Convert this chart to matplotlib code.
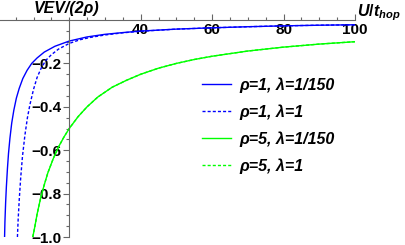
import matplotlib
matplotlib.use('Agg')
import matplotlib.pyplot as plt
from matplotlib.ticker import MultipleLocator, FixedLocator

plt.rcParams['font.family'] = ['Liberation Sans', 'DejaVu Sans']
plt.rcParams['mathtext.fontset'] = 'custom'
plt.rcParams['mathtext.it'] = 'Liberation Sans:italic:bold'
plt.rcParams['mathtext.rm'] = 'Liberation Sans:bold'

# values
x_b1 = [1.9, 2.0, 2.2, 2.4, 2.7, 3.0, 3.4, 3.9, 4.5, 5.2, 6.0, 7.0, 8.2, 9.5, 11, 13,
        16, 20, 25, 30, 35, 40, 50, 60, 70, 80, 90, 100]
y_b1 = [-1.0, -0.93, -0.84, -0.77, -0.685, -0.615, -0.545, -0.475, -0.415, -0.36, -0.315,
        -0.27, -0.232, -0.20, -0.175, -0.148, -0.121, -0.097, -0.078, -0.066, -0.058,
        -0.051, -0.042, -0.036, -0.031, -0.027, -0.024, -0.022]

x_b2 = [5.5, 5.7, 6.0, 6.4, 6.9, 7.6, 8.3, 9.0, 10, 11, 12.2, 13.5, 15, 17, 20, 23, 26,
        30, 35, 40, 50, 60, 70, 80, 90, 100]
y_b2 = [-1.0, -0.92, -0.83, -0.73, -0.63, -0.53, -0.45, -0.39, -0.32, -0.265, -0.22,
        -0.185, -0.16, -0.134, -0.108, -0.091, -0.08, -0.069, -0.059, -0.052, -0.042,
        -0.036, -0.031, -0.027, -0.024, -0.022]

x_g1 = [9.8, 10.4, 11, 12, 13, 14, 15.5, 17, 18.5, 20, 22.5, 25, 28, 32, 36, 40, 45, 50,
        55, 60, 70, 80, 90, 100]
y_g1 = [-1.0, -0.95, -0.895, -0.82, -0.76, -0.705, -0.64, -0.585, -0.54, -0.50, -0.445,
        -0.40, -0.355, -0.31, -0.278, -0.25, -0.222, -0.20, -0.182, -0.167, -0.143,
        -0.125, -0.111, -0.10]

x_g2 = x_g1
y_g2 = y_g1

labels = ['ρ=1, λ=1/150', 'ρ=1, λ=1', 'ρ=5, λ=1/150', 'ρ=5, λ=1']

fig = plt.figure(figsize=(4.06, 2.45), dpi=100)
ax = fig.add_axes([0.0, 1 - 237 / 245, 355 / 406, 217 / 245])

dash = (0, (2.2, 1.5))
ax.plot(x_g2, y_g2, color='#00ff00', lw=1.0, ls=dash, label=labels[3])
ax.plot(x_g1, y_g1, color='#00ff00', lw=1.0, label=labels[2])
ax.plot(x_b2, y_b2, color='#0000ff', lw=1.0, ls=dash, label=labels[1])
ax.plot(x_b1, y_b1, color='#0000ff', lw=1.0, label=labels[0])

ax.set_xlim(0.62, 100)
ax.set_ylim(-1.0, 0)

for s in ['top', 'right']:
    ax.spines[s].set_visible(False)
axc = '0.4'
ax.spines['left'].set_position(('data', 20))
ax.spines['bottom'].set_position(('data', 0))
ax.spines['left'].set_color(axc)
ax.spines['bottom'].set_color(axc)
ax.spines['left'].set_linewidth(0.8)
ax.spines['bottom'].set_linewidth(0.8)

ax.xaxis.set_major_locator(FixedLocator([40, 60, 80, 100]))
ax.xaxis.set_minor_locator(MultipleLocator(5))
ax.yaxis.set_major_locator(FixedLocator([-1.0, -0.8, -0.6, -0.4, -0.2]))
ax.yaxis.set_minor_locator(MultipleLocator(0.05))
ax.set_xticklabels(['40', '60', '80', '100'])
ax.set_yticklabels(['−1.0', '−0.8', '−0.6', '−0.4', '−0.2'])

ax.tick_params(axis='x', which='both', direction='in', color=axc, width=0.8, pad=2,
               labelsize=11)
ax.tick_params(axis='x', which='major', length=4)
ax.tick_params(axis='x', which='minor', length=2.2)
ax.tick_params(axis='y', which='both', direction='out', color=axc, width=0.8, pad=1.5,
               labelsize=11)
ax.tick_params(axis='y', which='major', length=4)
ax.tick_params(axis='y', which='minor', length=2.2)
for t in ax.get_xticklabels() + ax.get_yticklabels():
    t.set_fontweight('bold')

fig.text(67 / 406, 1 - 9 / 245, 'VEV/(2ρ)', ha='center', va='center',
         fontsize=11.5, fontweight='bold', fontstyle='italic')
fig.text(357 / 406, 1 - 13 / 245, r'$U/t_{hop}$', ha='left', va='center', fontsize=11.5)

h, l = ax.get_legend_handles_labels()
order = [3, 2, 1, 0]
leg = fig.legend([h[i] for i in order], [l[i] for i in order],
                 loc='upper left', bbox_to_anchor=(202 / 406, 1 - 77 / 245),
                 frameon=False, fontsize=11.5, handlelength=1.8, handletextpad=0.55,
                 labelspacing=0.72, borderpad=0, borderaxespad=0)
for t in leg.get_texts():
    t.set_fontweight('bold')
    t.set_fontstyle('italic')

fig.savefig('out.png', dpi=100)
